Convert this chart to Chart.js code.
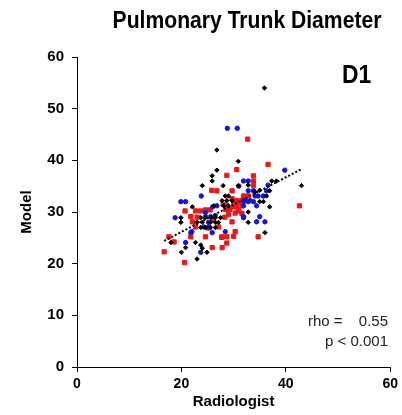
<!DOCTYPE html>
<html>
<head>
<meta charset="utf-8">
<script src="https://cdn.jsdelivr.net/npm/chart.js@4"></script>
<style>
  html, body { margin: 0; padding: 0; background: #fff; }
  #wrap { width: 402px; height: 415px; position: relative; }
</style>
</head>
<body>
<div id="wrap"><canvas id="chart"></canvas></div>
<script>
// values
const blackX = [35.9, 26.8, 30.9, 26.8, 25.9, 25.9, 24.0, 28.0, 30.9, 37.3, 38.2, 43.0, 28.4, 29.0, 36.3, 36.9, 27.8, 28.7, 29.7, 26.2,
                28.1, 29.0, 35.0, 36.9, 19.9, 19.9, 23.7, 24.6, 25.6, 26.5, 27.5, 23.0, 24.0, 25.6, 26.5, 27.1, 23.7, 24.6, 25.6, 26.5,
                32.8, 36.0, 18.0, 20.8, 22.7, 23.7, 20.0, 24.9, 23.0, 22.1, 24.0, 32.8, 32.8, 35.0, 34.1, 35.7];
const blackY = [54.0, 42.0, 39.8, 38.1, 37.0, 36.0, 35.1, 35.1, 35.1, 36.0, 36.0, 35.1, 33.1, 33.1, 33.1, 34.1, 32.2, 32.2, 32.2, 31.2,
                31.2, 31.2, 32.0, 31.0, 28.9, 28.0, 28.9, 28.9, 28.9, 28.9, 28.9, 28.0, 28.0, 28.0, 28.0, 28.0, 27.0, 27.0, 27.0, 27.0,
                28.0, 26.0, 24.1, 23.1, 24.1, 23.6, 22.2, 22.2, 20.9, 31.0, 23.0, 35.2, 30.0, 34.2, 33.9, 32.0];

const blueX = [28.8, 30.7, 23.8, 19.9, 20.8, 31.9, 32.8, 32.8, 33.8, 34.1, 34.7, 35.7, 36.3, 39.8, 18.8, 21.8, 24.6, 26.5, 26.8, 25.9,
               23.7, 20.8, 31.9, 34.4, 32.2, 34.4, 31.9, 25.2, 24.6, 25.6, 26.0, 24.3, 25.2, 22.0, 28.4, 33.2, 31.0, 31.9, 32.8, 33.8,
               31.9, 35.0, 36.0, 36.6];
const blueY = [46.2, 46.2, 33.1, 32.0, 32.0, 36.0, 36.0, 34.1, 34.1, 33.1, 33.1, 33.1, 34.1, 38.1, 28.9, 26.0, 29.9, 29.3, 31.2, 26.0,
               22.2, 24.1, 28.9, 28.1, 32.2, 31.2, 31.2, 28.0, 29.1, 29.1, 31.0, 27.1, 27.1, 26.2, 26.2, 32.2, 35.0, 32.0, 32.0, 32.0,
               29.1, 29.1, 28.1, 35.2];

const redX = [32.7, 36.6, 30.6, 28.7, 33.8, 33.8, 33.8, 26.8, 25.8, 29.7, 31.9, 32.8, 29.7, 30.6, 31.6, 28.7, 30.6, 31.6, 30.9, 20.7,
              21.8, 22.7, 23.7, 22.1, 22.7, 27.1, 24.6, 21.8, 28.7, 27.8, 17.6, 18.6, 16.7, 20.6, 25.9, 27.8, 34.7, 42.6, 29.7, 31.6,
              28.0, 28.5, 29.3, 30.0, 29.0, 30.3, 28.3, 31.0, 27.7, 30.3, 28.7, 25.2, 24.6, 25.5, 26.0, 23.0, 30.0, 30.0, 30.9];
const redY = [44.1, 39.2, 38.2, 37.1, 37.0, 36.0, 35.1, 34.1, 34.2, 34.1, 33.1, 33.1, 32.6, 32.2, 32.2, 31.2, 31.2, 31.2, 30.2, 30.2,
              29.1, 30.2, 30.2, 28.1, 27.1, 27.1, 25.2, 25.2, 25.2, 25.2, 25.2, 24.2, 22.3, 20.2, 23.1, 23.1, 25.2, 31.2, 28.1, 29.7,
              31.5, 30.5, 30.5, 31.0, 29.5, 29.8, 29.0, 30.5, 25.1, 26.2, 24.0, 26.9, 30.4, 30.4, 28.5, 29.0, 25.3, 32.0, 32.0];

const trendX = [16.7, 43.0];
const trendY = [24.4, 38.3];

const xTicks = [0, 20, 40, 60];
const yTicks = [0, 10, 20, 30, 40, 50, 60];

const titleText = 'Pulmonary Trunk Diameter';
const panelText = 'D1';
const xTitle = 'Radiologist';
const yTitle = 'Model';
const rhoLabel = 'rho =';
const rhoValue = '0.55';
const pText = 'p < 0.001';

const FONT = '"Liberation Sans", Arial, sans-serif';

function pts(xs, ys) {
    return xs.map((x, i) => ({ x: x, y: ys[i] }));
}

// free text: title, panel tag, stats, axis titles
const textPlugin = {
    id: 'texts',
    afterDraw(chart) {
        const ctx = chart.ctx;
        const area = chart.chartArea;
        ctx.save();
        ctx.fillStyle = '#000';
        ctx.textBaseline = 'alphabetic';

        ctx.save();
        ctx.translate(247, 28);
        ctx.scale(0.88, 1);
        ctx.font = 'bold 24px ' + FONT;
        ctx.textAlign = 'center';
        ctx.fillText(titleText, 0, 0);
        ctx.restore();

        ctx.save();
        ctx.translate(342, 83);
        ctx.scale(0.88, 1);
        ctx.font = 'bold 26px ' + FONT;
        ctx.textAlign = 'left';
        ctx.fillText(panelText, 0, 0);
        ctx.restore();

        ctx.fillStyle = '#222';
        ctx.font = '15px ' + FONT;
        ctx.textAlign = 'left';
        ctx.fillText(rhoLabel, 308, 326);
        ctx.textAlign = 'right';
        ctx.fillText(rhoValue, 388, 326);
        ctx.fillText(pText, 388, 346);

        ctx.fillStyle = '#000';
        ctx.font = 'bold 15px ' + FONT;
        ctx.textAlign = 'center';
        ctx.fillText(xTitle, (area.left + area.right) / 2, 406);

        ctx.save();
        ctx.translate(31, (area.top + area.bottom) / 2);
        ctx.rotate(-Math.PI / 2);
        ctx.fillText(yTitle, 0, 0);
        ctx.restore();

        ctx.restore();
    }
};

const ctx = document.getElementById('chart');

new Chart(ctx, {
    type: 'scatter',
    data: {
        datasets: [
            {
                label: 'trend',
                data: pts(trendX, trendY),
                showLine: true,
                borderColor: '#000',
                borderWidth: 2,
                borderDash: [2, 2],
                pointRadius: 0,
                fill: false,
                order: 0
            },
            {
                label: 'black',
                data: pts(blackX, blackY),
                pointStyle: 'rectRot',
                pointRadius: 2.2,
                backgroundColor: '#000',
                borderColor: '#000',
                borderWidth: 1,
                order: 1
            },
            {
                label: 'blue',
                data: pts(blueX, blueY),
                pointStyle: 'circle',
                pointRadius: 2.2,
                backgroundColor: '#1414d8',
                borderColor: '#1414d8',
                borderWidth: 1,
                order: 2
            },
            {
                label: 'red',
                data: pts(redX, redY),
                pointStyle: 'rect',
                pointRadius: 3.0,
                backgroundColor: '#ec1818',
                borderColor: '#ec1818',
                borderWidth: 1,
                order: 3
            }
        ]
    },
    options: {
        responsive: true,
        maintainAspectRatio: false,
        animation: false,
        layout: {
            padding: { top: 57, right: 9, left: 0, bottom: 0 }
        },
        plugins: {
            legend: { display: false },
            title: { display: false },
            tooltip: { enabled: false }
        },
        scales: {
            x: {
                type: 'linear',
                min: 0,
                max: 60,
                afterBuildTicks: scale => { scale.ticks = xTicks.map(v => ({ value: v })); },
                afterFit: scale => { scale.height = 48; },
                border: { display: true, color: '#000', width: 1 },
                grid: { display: true, drawOnChartArea: false, drawTicks: true, tickLength: 5, color: '#000' },
                ticks: {
                    color: '#000',
                    padding: 4,
                    font: { family: FONT, size: 14, weight: 'bold' }
                }
            },
            y: {
                type: 'linear',
                min: 0,
                max: 60,
                afterBuildTicks: scale => { scale.ticks = yTicks.map(v => ({ value: v })); },
                afterFit: scale => { scale.width = 77; },
                border: { display: true, color: '#000', width: 1 },
                grid: { display: true, drawOnChartArea: false, drawTicks: true, tickLength: 5, color: '#000' },
                ticks: {
                    color: '#000',
                    padding: 8,
                    font: { family: FONT, size: 15, weight: 'bold' }
                }
            }
        }
    },
    plugins: [textPlugin]
});
</script>
</body>
</html>
